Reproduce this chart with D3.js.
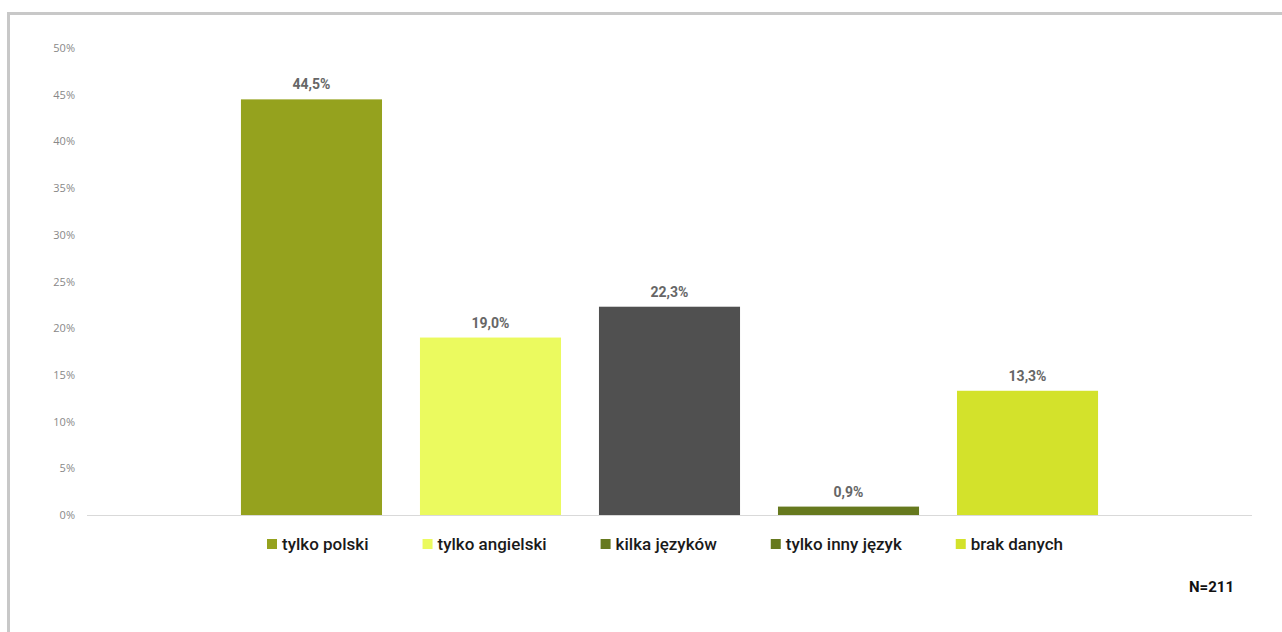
<!DOCTYPE html>
<html><head><meta charset="utf-8">
<script src="https://cdn.jsdelivr.net/npm/d3@7"></script>
<style>html,body{margin:0;padding:0;background:#fff;}svg{display:block;}</style>
</head><body>
<svg id="chart" width="1282" height="632"></svg>
<script>
const categories = ["tylko polski","tylko angielski","kilka języków","tylko inny język","brak danych"];
const values = [44.5, 19.0, 22.3, 0.9, 13.3];
const barColors = ["#95a21e","#ebfa5f","#505050","#66791e","#d3e22b"];
const legendColors = ["#95a21e","#ebfa5f","#66791e","#66791e","#d3e22b"];
const yTicks = [0,5,10,15,20,25,30,35,40,45,50];
const note = "N=211";

const svg = d3.select("#chart");
// frame
svg.append("path").attr("d","M8.5,632 V13.5 H1282").attr("fill","none").attr("stroke","#c8c8c8").attr("stroke-width",3);

const x = d3.scaleBand().domain(categories).range([87,1252]).paddingInner(0.212).paddingOuter(0.86);
const y = d3.scaleLinear().domain([0,50]).range([515,48]);

// y tick labels
const yAxis = svg.append("g").attr("transform","translate(75,0)")
  .call(d3.axisLeft(y).tickValues(yTicks).tickSize(0).tickPadding(0).tickFormat(d=>d+"%"));
yAxis.select(".domain").remove();
yAxis.selectAll("text").attr("font-family","'Open Sans', sans-serif").attr("font-size",11).attr("fill","#888888");

// baseline
svg.append("line").attr("x1",87).attr("x2",1252).attr("y1",y(0)+0.5).attr("y2",y(0)+0.5).attr("stroke","#d9d9d9").attr("stroke-width",1);

// bars
svg.selectAll("rect.bar").data(values).join("rect").attr("class","bar")
  .attr("x",(d,i)=>x(categories[i])).attr("width",x.bandwidth())
  .attr("y",d=>y(d)).attr("height",d=>y(0)-y(d))
  .attr("fill",(d,i)=>barColors[i]);

// value labels
svg.selectAll("text.val").data(values).join("text").attr("class","val")
  .attr("x",(d,i)=>x(categories[i])+x.bandwidth()/2).attr("y",d=>y(d)-10)
  .attr("text-anchor","middle").attr("font-family","Roboto, sans-serif").attr("font-weight","bold")
  .attr("font-size",14).attr("fill","#666666")
  .text(d=>d.toFixed(1).replace(".",",")+"%");

// legend
const lg = svg.append("g");
let lx = 267;
categories.forEach((c,i)=>{
  const g = lg.append("g").attr("transform",`translate(${lx},0)`);
  g.append("rect").attr("x",0).attr("y",539).attr("width",10).attr("height",10).attr("fill",legendColors[i]);
  const t = g.append("text").attr("x",15).attr("y",550).attr("font-family","Roboto, sans-serif")
    .attr("font-weight",500).attr("font-size",17).attr("fill","#1a1a1a").text(c);
  lx += 15 + t.node().getComputedTextLength() + 54;
});

// note
svg.append("text").attr("x",1234).attr("y",592).attr("text-anchor","end")
  .attr("font-family","Roboto, sans-serif").attr("font-weight","bold").attr("font-size",15).attr("fill","#111").text(note);
</script>
</body></html>
